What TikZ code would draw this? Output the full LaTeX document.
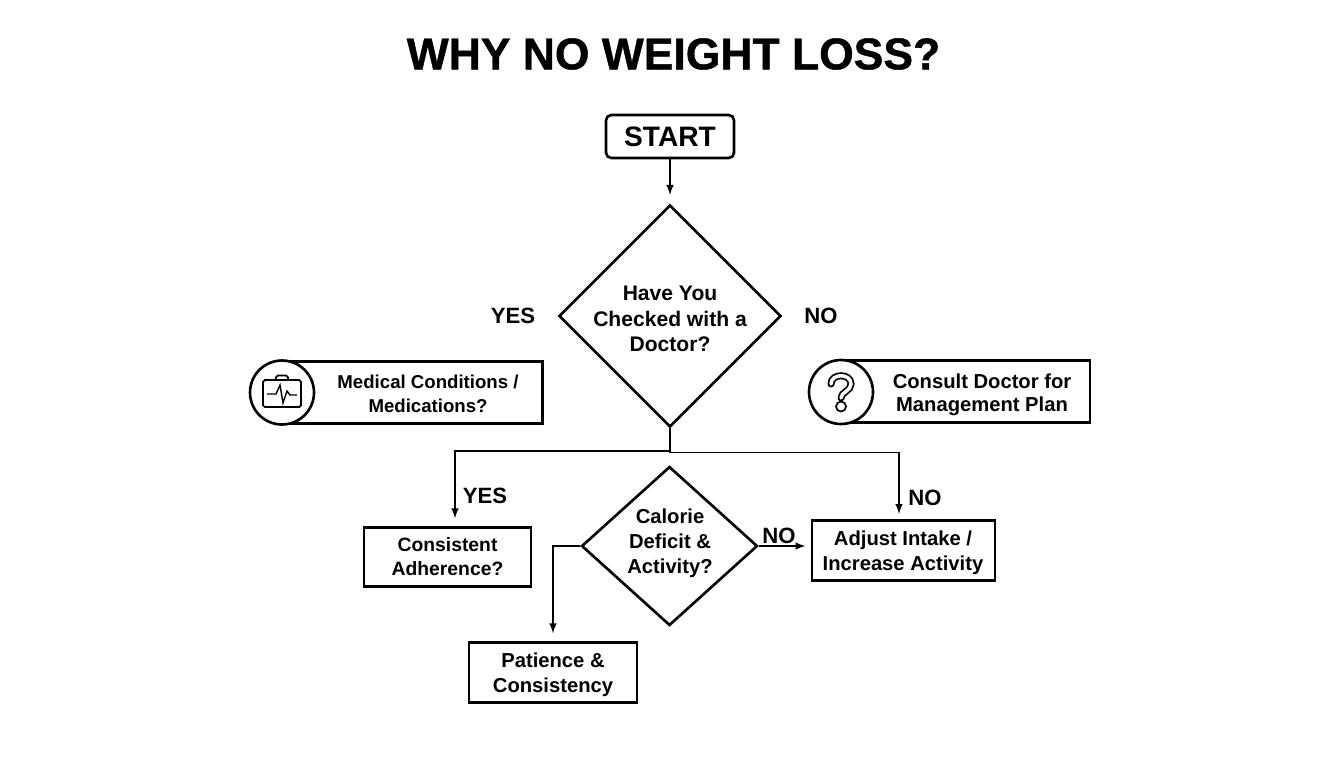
\documentclass[tikz,border=0pt]{standalone}
\usepackage{fontspec}
\setmainfont{Liberation Sans}
\newfontfamily\titlefont{Liberation Sans Bold}[FakeBold=1]
\usetikzlibrary{shapes.geometric,arrows,positioning}

\tikzset{
	boxtext/.style={font=\bfseries\fontsize{11.5}{14.2}\selectfont,align=center,inner sep=0pt},
	answer/.style={font=\bfseries\fontsize{12.6}{15}\selectfont,inner sep=0pt},
	stepbox/.style={draw,line width=1.5pt,boxtext},
	pillbox/.style={draw,line width=1.3pt,minimum width=#1,minimum height=1.24cm,inner sep=0pt},
	iconring/.style={circle,draw,fill=white,line width=1.5pt,minimum size=1.28cm,inner sep=0pt},
	decision/.style={diamond,draw,line width=1.5pt,boxtext},
	flow/.style={-latex,line width=0.95pt},
}

\begin{document}
\begin{tikzpicture}[x=0.02cm,y=-0.02cm]
	\useasboundingbox (0,0) rectangle (1344,768);
	\node[font=\titlefont\fontsize{25.3}{30}\selectfont,inner sep=0pt] (title) at (673.5,54) {WHY NO WEIGHT LOSS?};

	\node[stepbox,rounded corners=3pt,minimum width=2.56cm,minimum height=0.86cm,font=\bfseries\fontsize{16}{18}\selectfont] (start) at (670,136.5) {START};

	\node[decision,aspect=1,minimum width=4.44cm,minimum height=4.44cm] (doctor) at (670,316) {};
	\node[boxtext,font=\bfseries\fontsize{12}{14.6}\selectfont] (doctortext) at (670,319) {Have You\\Checked with a\\Doctor?};

	\node[decision,aspect=1.107,minimum width=3.52cm,minimum height=3.18cm] (calorie) at (669.5,546) {};
	\node[boxtext] (calorietext) at (670,543.5) {Calorie\\Deficit \&\\Activity?};

	% pill shaped boxes with their icons
	\node[pillbox=5.2cm] (medical) at (412.5,392.5) {};
	\node[boxtext,font=\bfseries\fontsize{10.6}{13.7}\selectfont] (medicaltext) at (428,394) {Medical Conditions /\\Medications?};
	\node[iconring] (medicalring) at (282,392.5) {};

	\node[pillbox=5cm] (consult) at (965,391.5) {};
	\node[boxtext,font=\bfseries\fontsize{11.5}{13.4}\selectfont] (consulttext) at (982,395) {Consult Doctor for\\Management Plan};
	\node[iconring] (consultring) at (841,392) {};

	% briefcase
	\draw[line width=1pt,rounded corners=1pt] (263,380) rectangle (301,407);
	\draw[line width=1pt,rounded corners=1pt] (276,380) -- (276,375.5) -- (288,375.5) -- (288,380);
	\draw[line width=0.8pt] (267,394) -- (276,394) -- (280,385) -- (283,403) -- (287,391) -- (290,395) -- (297,395);

	% question mark
	\draw[line width=4pt,line cap=round] (831,384) .. controls (831,373) and (851,373) .. (851,384) .. controls (851,391) and (841,392) .. (841,398);
	\draw[white,line width=2pt,line cap=round] (831,384) .. controls (831,373) and (851,373) .. (851,384) .. controls (851,391) and (841,392) .. (841,398);
	\draw[line width=0.95pt] (841,406.5) circle (5);

	\node[stepbox,font=\bfseries\fontsize{11}{13.7}\selectfont,minimum width=3.34cm,minimum height=1.18cm] (adherence) at (447.5,557) {Consistent\\Adherence?};
	\node[stepbox,minimum width=3.66cm,minimum height=1.2cm] (adjust) at (903.5,550.5) {};
	\node[boxtext] (adjusttext) at (903,552.5) {Adjust Intake /\\Increase Activity};
	\node[stepbox,minimum width=3.36cm,minimum height=1.2cm] (patience) at (553,672.5) {};
	\node[boxtext] (patiencetext) at (553,675) {Patience \&\\Consistency};

	\node[answer] (yesa) at (513,316) {YES};
	\node[answer] (noa) at (821,316) {NO};
	\node[answer] (yesb) at (485,496) {YES};
	\node[answer] (nob) at (925,498) {NO};
	\node[answer] (noc) at (779,536) {NO};

	\coordinate (yesdrop) at (455,451);
	\coordinate (nodrop) at (899,452.5);

	\draw[flow,shorten >=5pt] (start) -- (doctor);
	\draw[flow,shorten >=4.5pt] (doctor.south) |- (yesdrop) -- (yesdrop |- adherence.north);
	\draw[flow,shorten >=3pt] (doctor.south) |- (nodrop) -- (nodrop |- adjust.north);
	\draw[flow,shorten >=4.5pt] (calorie.west) -| (patience.north);
	\draw[flow,shorten >=3pt] (calorie.east) -- (calorie.east -| adjust.west);
\end{tikzpicture}
\end{document}
